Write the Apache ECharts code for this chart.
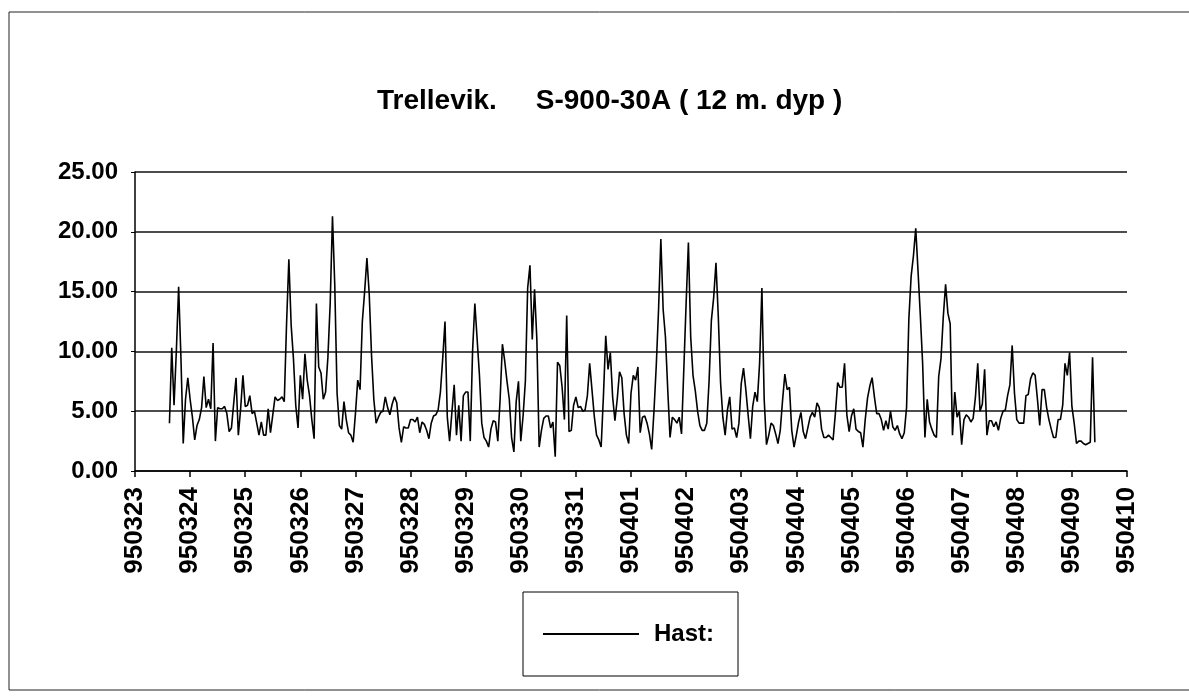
<!DOCTYPE html>
<html>
<head>
<meta charset="utf-8">
<script src="https://cdn.jsdelivr.net/npm/echarts@6/dist/echarts.min.js"></script>
<style>
    html, body { margin: 0; padding: 0; background: #fff; }
    #chart { width: 1189px; height: 700px; }
</style>
</head>
<body>
<div id="chart"></div>
<script>
// dag-etiketter under x-aksen (yymmdd)
const dayLabels = ['950323', '950324', '950325', '950326', '950327', '950328', '950329', '950330', '950331',
    '950401', '950402', '950403', '950404', '950405', '950406', '950407', '950408', '950409', '950410']

// første måling, i dager etter 950323 kl 00 (kl 15)
const startDay = 0.625
// 1 time mellom målingene
const stepDay = 1 / 24

// Hast: timesverdier
const hast = [
    4.0, 10.3, 5.5, 10.0, 15.4, 9.5, 2.3, 6.0, 7.8, 6.0,
    4.5, 2.6, 3.8, 4.3, 5.3, 7.9, 5.3, 6.0, 5.2, 10.7,
    2.5, 5.3, 5.2, 5.2, 5.4, 4.8, 3.3, 3.6, 5.7, 7.8,
    3.0, 5.2, 8.0, 5.4, 5.5, 6.3, 4.8, 5.0, 4.0, 3.0,
    4.1, 3.0, 3.0, 5.2, 3.2, 4.7, 6.2, 5.9, 6.0, 6.2,
    5.8, 12.3, 17.7, 12.2, 9.4, 5.5, 3.6, 8.0, 6.0, 9.8,
    7.6, 6.3, 4.3, 2.7, 14.0, 8.7, 8.2, 6.0, 6.6, 9.5,
    14.0, 21.3, 15.5, 6.5, 3.8, 3.5, 5.8, 4.3, 3.2, 3.0,
    2.4, 4.8, 7.6, 6.8, 12.5, 15.0, 17.8, 14.8, 9.7, 6.0,
    4.0, 4.5, 4.9, 5.0, 6.2, 5.3, 4.7, 5.6, 6.2, 5.7,
    3.6, 2.4, 3.7, 3.6, 3.6, 4.3, 4.3, 4.1, 4.5, 3.2,
    4.1, 3.9, 3.4, 2.7, 4.0, 4.6, 4.7, 5.1, 6.6, 9.4,
    12.5, 4.5, 2.5, 4.9, 7.2, 3.0, 5.5, 2.5, 6.3, 6.6,
    6.6, 2.5, 10.0, 14.0, 11.0, 8.0, 4.0, 2.8, 2.5, 2.0,
    3.5, 4.2, 4.1, 2.5, 6.0, 10.6, 9.2, 7.5, 6.0, 2.8,
    1.6, 5.8, 7.5, 2.5, 4.6, 7.5, 15.3, 17.2, 11.0, 15.2,
    11.0, 2.0, 3.4, 4.4, 4.6, 4.6, 3.6, 4.1, 1.2, 9.1,
    8.8, 7.0, 4.3, 13.0, 3.3, 3.4, 5.5, 6.2, 5.3, 5.4,
    5.0, 5.1, 6.3, 9.0, 6.8, 4.6, 3.0, 2.6, 2.0, 6.3,
    11.3, 8.5, 9.9, 6.2, 4.2, 6.0, 8.3, 7.8, 4.8, 3.0,
    2.3, 6.5, 8.0, 7.6, 8.7, 3.2, 4.5, 4.6, 4.0, 3.1,
    1.8, 5.0, 8.8, 13.5, 19.4, 13.5, 11.2, 6.8, 2.8, 4.5,
    4.3, 4.0, 4.5, 3.1, 8.5, 14.0, 19.1, 11.2, 8.0, 6.7,
    5.0, 3.8, 3.4, 3.4, 4.0, 7.5, 12.6, 14.5, 17.4, 13.0,
    7.4, 4.5, 3.0, 5.1, 6.2, 3.5, 3.6, 2.8, 4.0, 7.3,
    8.6, 6.8, 4.7, 2.7, 5.4, 6.6, 5.8, 9.0, 15.3, 6.0,
    2.2, 3.0, 4.0, 3.8, 3.1, 2.3, 3.4, 5.9, 8.1, 6.8,
    7.0, 3.4, 2.0, 3.0, 4.1, 4.9, 3.3, 2.7, 3.6, 4.5,
    4.9, 4.5, 5.7, 5.3, 3.5, 2.8, 2.8, 3.0, 2.8, 2.6,
    4.8, 7.4, 7.0, 7.0, 9.0, 4.7, 3.3, 4.6, 5.2, 3.5,
    3.3, 3.2, 2.0, 4.3, 6.1, 7.1, 7.8, 6.2, 4.8, 4.8,
    4.3, 3.4, 4.2, 3.5, 5.0, 3.7, 3.4, 3.8, 3.1, 2.7,
    3.2, 5.3, 12.7, 16.3, 18.0, 20.3, 16.7, 13.0, 9.0, 2.8,
    6.0, 4.1, 3.5, 3.0, 2.8, 7.9, 9.4, 12.9, 15.6, 13.2,
    12.3, 3.0, 6.6, 4.5, 5.0, 2.2, 4.3, 4.7, 4.5, 4.1,
    4.4, 6.2, 9.0, 5.0, 5.6, 8.5, 3.0, 4.2, 4.2, 3.7,
    4.1, 3.4, 4.4, 5.0, 5.1, 6.3, 7.2, 10.5, 6.5, 4.3,
    4.0, 4.0, 4.0, 6.3, 6.4, 7.7, 8.2, 8.0, 6.0, 3.8,
    6.8, 6.8, 5.3, 4.3, 3.5, 2.8, 2.8, 4.3, 4.3, 5.5,
    9.0, 8.0, 9.9, 5.4, 4.0, 2.3, 2.5, 2.5, 2.3, 2.2,
    2.3, 2.4, 9.5, 2.4
]

const fontName = '"Liberation Sans", Arial, sans-serif'

const chart = echarts.init(document.getElementById('chart'))

let option = {
    backgroundColor: '#fff',
    animation: false,
    title: {
        text: 'Trellevik.     S-900-30A ( 12 m. dyp )',
        left: 372,
        top: 82,
        textStyle: {
            color: '#000',
            fontFamily: fontName,
            fontWeight: 'bold',
            fontSize: 28
        }
    },
    // ramme rundt hele figuren
    graphic: [
        {
            type: 'rect',
            shape: { x: 9, y: 12, width: 1200, height: 678 },
            style: { fill: null, stroke: '#222', lineWidth: 1 },
            silent: true
        }
    ],
    grid: {
        left: 135,
        right: 62,
        top: 172,
        bottom: 229
    },
    legend: {
        left: 523,
        top: 592,
        orient: 'horizontal',
        borderColor: '#000',
        borderWidth: 1,
        padding: [30, 24, 30, 20],
        icon: 'rect',
        itemWidth: 96,
        itemHeight: 2,
        textStyle: {
            color: '#000',
            fontFamily: fontName,
            fontWeight: 'bold',
            fontSize: 24,
            padding: [0, 0, 0, 10]
        },
        data: ['Hast:']
    },
    xAxis: {
        type: 'value',
        min: 0,
        max: 18,
        interval: 1,
        splitLine: { show: false },
        axisLine: { lineStyle: { color: '#000', width: 1.5 } },
        axisTick: { show: true, length: 6, lineStyle: { color: '#000', width: 1.5 } },
        axisLabel: {
            rotate: 90,
            margin: 16,
            color: '#000',
            fontFamily: fontName,
            fontWeight: 'bold',
            fontSize: 26,
            formatter: (v) => dayLabels[Math.round(v)]
        }
    },
    yAxis: {
        type: 'value',
        min: 0,
        max: 25,
        interval: 5,
        axisLine: { show: true, lineStyle: { color: '#000', width: 1.5 } },
        axisTick: { show: true, length: 4, lineStyle: { color: '#000' } },
        splitLine: { lineStyle: { color: '#111', width: 1.5 } },
        axisLabel: {
            margin: 17,
            color: '#000',
            fontFamily: fontName,
            fontWeight: 'bold',
            fontSize: 24,
            formatter: (v) => v.toFixed(2)
        }
    },
    series: [
        {
            name: 'Hast:',
            type: 'line',
            symbol: 'none',
            showSymbol: false,
            lineStyle: { color: '#000', width: 1.6 },
            itemStyle: { color: '#000' },
            data: hast.map((v, i) => [startDay + i * stepDay, v])
        }
    ]
}

chart.setOption(option)

window.addEventListener('resize', () => {
    chart.resize()
})
</script>
</body>
</html>
